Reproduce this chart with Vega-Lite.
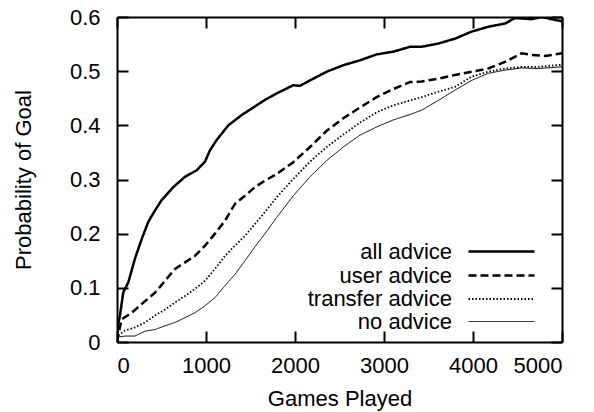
{
  "$schema": "https://vega.github.io/schema/vega-lite/v6.json",
  "width": 445,
  "height": 325,
  "autosize": "none",
  "padding": {"left": 117, "top": 17, "right": 32, "bottom": 70},
  "background": "white",
  "config": {
    "view": {"stroke": null},
    "font": "Liberation Sans",
    "axis": {
      "grid": false,
      "domainColor": "black",
      "domainWidth": 2,
      "labelColor": "black",
      "labelFont": "Liberation Sans",
      "labelFontSize": 22,
      "titleColor": "black",
      "titleFont": "Liberation Sans",
      "titleFontSize": 22,
      "titleFontWeight": "normal"
    }
  },
  "data": {
    "values": [
      {"g": 0, "p": 0, "s": "all advice"},
      {"g": 10, "p": 0.03, "s": "all advice"},
      {"g": 34, "p": 0.05, "s": "all advice"},
      {"g": 71, "p": 0.092, "s": "all advice"},
      {"g": 127, "p": 0.11, "s": "all advice"},
      {"g": 202, "p": 0.154, "s": "all advice"},
      {"g": 277, "p": 0.19, "s": "all advice"},
      {"g": 352, "p": 0.222, "s": "all advice"},
      {"g": 427, "p": 0.243, "s": "all advice"},
      {"g": 502, "p": 0.262, "s": "all advice"},
      {"g": 633, "p": 0.286, "s": "all advice"},
      {"g": 764, "p": 0.305, "s": "all advice"},
      {"g": 895, "p": 0.317, "s": "all advice"},
      {"g": 989, "p": 0.333, "s": "all advice"},
      {"g": 1045, "p": 0.354, "s": "all advice"},
      {"g": 1120, "p": 0.373, "s": "all advice"},
      {"g": 1251, "p": 0.4, "s": "all advice"},
      {"g": 1401, "p": 0.419, "s": "all advice"},
      {"g": 1551, "p": 0.435, "s": "all advice"},
      {"g": 1663, "p": 0.447, "s": "all advice"},
      {"g": 1794, "p": 0.459, "s": "all advice"},
      {"g": 1981, "p": 0.474, "s": "all advice"},
      {"g": 2056, "p": 0.473, "s": "all advice"},
      {"g": 2169, "p": 0.483, "s": "all advice"},
      {"g": 2356, "p": 0.499, "s": "all advice"},
      {"g": 2543, "p": 0.511, "s": "all advice"},
      {"g": 2730, "p": 0.52, "s": "all advice"},
      {"g": 2918, "p": 0.531, "s": "all advice"},
      {"g": 3105, "p": 0.536, "s": "all advice"},
      {"g": 3292, "p": 0.545, "s": "all advice"},
      {"g": 3423, "p": 0.545, "s": "all advice"},
      {"g": 3610, "p": 0.551, "s": "all advice"},
      {"g": 3798, "p": 0.56, "s": "all advice"},
      {"g": 3985, "p": 0.573, "s": "all advice"},
      {"g": 4172, "p": 0.582, "s": "all advice"},
      {"g": 4360, "p": 0.588, "s": "all advice"},
      {"g": 4472, "p": 0.598, "s": "all advice"},
      {"g": 4659, "p": 0.596, "s": "all advice"},
      {"g": 4771, "p": 0.6, "s": "all advice"},
      {"g": 4883, "p": 0.596, "s": "all advice"},
      {"g": 5000, "p": 0.592, "s": "all advice"},

      {"g": 0, "p": 0, "s": "user advice"},
      {"g": 15, "p": 0.014, "s": "user advice"},
      {"g": 52, "p": 0.042, "s": "user advice"},
      {"g": 165, "p": 0.054, "s": "user advice"},
      {"g": 277, "p": 0.07, "s": "user advice"},
      {"g": 427, "p": 0.091, "s": "user advice"},
      {"g": 540, "p": 0.113, "s": "user advice"},
      {"g": 652, "p": 0.135, "s": "user advice"},
      {"g": 764, "p": 0.147, "s": "user advice"},
      {"g": 876, "p": 0.159, "s": "user advice"},
      {"g": 989, "p": 0.178, "s": "user advice"},
      {"g": 1101, "p": 0.2, "s": "user advice"},
      {"g": 1214, "p": 0.224, "s": "user advice"},
      {"g": 1326, "p": 0.255, "s": "user advice"},
      {"g": 1438, "p": 0.27, "s": "user advice"},
      {"g": 1551, "p": 0.286, "s": "user advice"},
      {"g": 1663, "p": 0.298, "s": "user advice"},
      {"g": 1794, "p": 0.31, "s": "user advice"},
      {"g": 1981, "p": 0.332, "s": "user advice"},
      {"g": 2169, "p": 0.36, "s": "user advice"},
      {"g": 2356, "p": 0.39, "s": "user advice"},
      {"g": 2543, "p": 0.413, "s": "user advice"},
      {"g": 2730, "p": 0.433, "s": "user advice"},
      {"g": 2918, "p": 0.452, "s": "user advice"},
      {"g": 3105, "p": 0.467, "s": "user advice"},
      {"g": 3292, "p": 0.48, "s": "user advice"},
      {"g": 3423, "p": 0.481, "s": "user advice"},
      {"g": 3610, "p": 0.486, "s": "user advice"},
      {"g": 3798, "p": 0.493, "s": "user advice"},
      {"g": 3985, "p": 0.499, "s": "user advice"},
      {"g": 4172, "p": 0.505, "s": "user advice"},
      {"g": 4360, "p": 0.517, "s": "user advice"},
      {"g": 4547, "p": 0.533, "s": "user advice"},
      {"g": 4659, "p": 0.53, "s": "user advice"},
      {"g": 4809, "p": 0.528, "s": "user advice"},
      {"g": 5000, "p": 0.533, "s": "user advice"},

      {"g": 0, "p": 0, "s": "transfer advice"},
      {"g": 10, "p": 0.012, "s": "transfer advice"},
      {"g": 90, "p": 0.021, "s": "transfer advice"},
      {"g": 202, "p": 0.027, "s": "transfer advice"},
      {"g": 315, "p": 0.036, "s": "transfer advice"},
      {"g": 427, "p": 0.049, "s": "transfer advice"},
      {"g": 540, "p": 0.06, "s": "transfer advice"},
      {"g": 652, "p": 0.073, "s": "transfer advice"},
      {"g": 764, "p": 0.085, "s": "transfer advice"},
      {"g": 876, "p": 0.098, "s": "transfer advice"},
      {"g": 989, "p": 0.113, "s": "transfer advice"},
      {"g": 1101, "p": 0.135, "s": "transfer advice"},
      {"g": 1214, "p": 0.159, "s": "transfer advice"},
      {"g": 1326, "p": 0.178, "s": "transfer advice"},
      {"g": 1438, "p": 0.196, "s": "transfer advice"},
      {"g": 1551, "p": 0.218, "s": "transfer advice"},
      {"g": 1663, "p": 0.24, "s": "transfer advice"},
      {"g": 1794, "p": 0.267, "s": "transfer advice"},
      {"g": 1981, "p": 0.301, "s": "transfer advice"},
      {"g": 2169, "p": 0.333, "s": "transfer advice"},
      {"g": 2356, "p": 0.36, "s": "transfer advice"},
      {"g": 2543, "p": 0.383, "s": "transfer advice"},
      {"g": 2730, "p": 0.405, "s": "transfer advice"},
      {"g": 2918, "p": 0.424, "s": "transfer advice"},
      {"g": 3105, "p": 0.437, "s": "transfer advice"},
      {"g": 3292, "p": 0.446, "s": "transfer advice"},
      {"g": 3423, "p": 0.452, "s": "transfer advice"},
      {"g": 3610, "p": 0.462, "s": "transfer advice"},
      {"g": 3798, "p": 0.471, "s": "transfer advice"},
      {"g": 3985, "p": 0.49, "s": "transfer advice"},
      {"g": 4172, "p": 0.499, "s": "transfer advice"},
      {"g": 4360, "p": 0.505, "s": "transfer advice"},
      {"g": 4547, "p": 0.508, "s": "transfer advice"},
      {"g": 4734, "p": 0.508, "s": "transfer advice"},
      {"g": 5000, "p": 0.512, "s": "transfer advice"},

      {"g": 0, "p": 0, "s": "no advice"},
      {"g": 10, "p": 0.009, "s": "no advice"},
      {"g": 90, "p": 0.011, "s": "no advice"},
      {"g": 202, "p": 0.011, "s": "no advice"},
      {"g": 315, "p": 0.02, "s": "no advice"},
      {"g": 427, "p": 0.023, "s": "no advice"},
      {"g": 540, "p": 0.03, "s": "no advice"},
      {"g": 652, "p": 0.036, "s": "no advice"},
      {"g": 764, "p": 0.045, "s": "no advice"},
      {"g": 876, "p": 0.054, "s": "no advice"},
      {"g": 989, "p": 0.067, "s": "no advice"},
      {"g": 1101, "p": 0.082, "s": "no advice"},
      {"g": 1214, "p": 0.104, "s": "no advice"},
      {"g": 1326, "p": 0.125, "s": "no advice"},
      {"g": 1438, "p": 0.15, "s": "no advice"},
      {"g": 1551, "p": 0.176, "s": "no advice"},
      {"g": 1663, "p": 0.2, "s": "no advice"},
      {"g": 1794, "p": 0.23, "s": "no advice"},
      {"g": 1981, "p": 0.27, "s": "no advice"},
      {"g": 2169, "p": 0.305, "s": "no advice"},
      {"g": 2356, "p": 0.335, "s": "no advice"},
      {"g": 2543, "p": 0.36, "s": "no advice"},
      {"g": 2730, "p": 0.382, "s": "no advice"},
      {"g": 2918, "p": 0.397, "s": "no advice"},
      {"g": 3105, "p": 0.41, "s": "no advice"},
      {"g": 3292, "p": 0.42, "s": "no advice"},
      {"g": 3423, "p": 0.428, "s": "no advice"},
      {"g": 3610, "p": 0.446, "s": "no advice"},
      {"g": 3798, "p": 0.465, "s": "no advice"},
      {"g": 3985, "p": 0.483, "s": "no advice"},
      {"g": 4172, "p": 0.496, "s": "no advice"},
      {"g": 4360, "p": 0.502, "s": "no advice"},
      {"g": 4547, "p": 0.506, "s": "no advice"},
      {"g": 4734, "p": 0.505, "s": "no advice"},
      {"g": 5000, "p": 0.508, "s": "no advice"}
    ]
  },
  "layer": [
    {
      "mark": {"type": "line", "color": "black", "strokeCap": "butt", "clip": true},
      "encoding": {
        "x": {
          "field": "g", "type": "quantitative",
          "scale": {"domain": [0, 5000], "nice": false, "zero": false},
          "axis": {
            "orient": "bottom",
            "values": [0, 1000, 2000, 3000, 4000, 5000],
            "format": "d",
            "ticks": true,
            "tickSize": -11,
            "tickWidth": 2,
            "tickColor": "black",
            "labelPadding": 24,
            "title": "Games Played",
            "titleX": 222.5,
            "titleY": 56,
            "titleBaseline": "middle",
            "titleAlign": "center"
          }
        },
        "y": {
          "field": "p", "type": "quantitative",
          "scale": {"domain": [0, 0.6], "nice": false, "zero": false},
          "axis": {
            "orient": "left",
            "values": [0, 0.1, 0.2, 0.3, 0.4, 0.5, 0.6],
            "format": ".1~f",
            "ticks": true,
            "tickSize": -11,
            "tickWidth": 2,
            "tickColor": "black",
            "labelPadding": 28,
            "title": "Probability of Goal",
            "titleX": -94,
            "titleY": 162.5,
            "titleBaseline": "middle",
            "titleAlign": "center",
            "titleAngle": -90
          }
        },
        "strokeDash": {
          "field": "s", "type": "nominal",
          "scale": {
            "domain": ["all advice", "user advice", "transfer advice", "no advice"],
            "range": [[1, 0], [8, 4], [1.5, 2], [1, 0]]
          },
          "legend": {
            "title": null,
            "orient": "none",
            "legendX": 372,
            "legendY": 222,
            "labelAlign": "right",
            "labelOffset": -62,
            "labelFontSize": 22,
            "labelFont": "Liberation Sans",
            "labelColor": "black",
            "symbolType": "M-3,0H3",
            "symbolSize": 484,
            "symbolStrokeColor": "black",
            "rowPadding": 0
          }
        },
        "strokeWidth": {
          "field": "s", "type": "nominal",
          "scale": {
            "type": "ordinal",
            "domain": ["all advice", "user advice", "transfer advice", "no advice"],
            "range": [2.5, 2.5, 1.8, 1]
          },
          "legend": {
            "title": null,
            "orient": "none",
            "legendX": 372,
            "legendY": 222,
            "labelAlign": "right",
            "labelOffset": -62,
            "labelFontSize": 22,
            "labelFont": "Liberation Sans",
            "labelColor": "black",
            "symbolType": "M-3,0H3",
            "symbolSize": 484,
            "symbolStrokeColor": "black",
            "rowPadding": 0
          }
        }
      }
    },
    {
      "mark": {"type": "point", "opacity": 0},
      "encoding": {
        "x": {
          "field": "g", "type": "quantitative",
          "scale": {"domain": [0, 5000], "nice": false, "zero": false},
          "axis": {
            "orient": "top",
            "values": [0, 1000, 2000, 3000, 4000, 5000],
            "labels": false,
            "ticks": true,
            "tickSize": -11,
            "tickWidth": 2,
            "tickColor": "black",
            "title": null
          }
        },
        "y": {
          "field": "p", "type": "quantitative",
          "scale": {"domain": [0, 0.6], "nice": false, "zero": false},
          "axis": {
            "orient": "right",
            "values": [0, 0.1, 0.2, 0.3, 0.4, 0.5, 0.6],
            "labels": false,
            "ticks": true,
            "tickSize": -11,
            "tickWidth": 2,
            "tickColor": "black",
            "title": null
          }
        }
      }
    }
  ],
  "resolve": {"axis": {"x": "independent", "y": "independent"}}
}
